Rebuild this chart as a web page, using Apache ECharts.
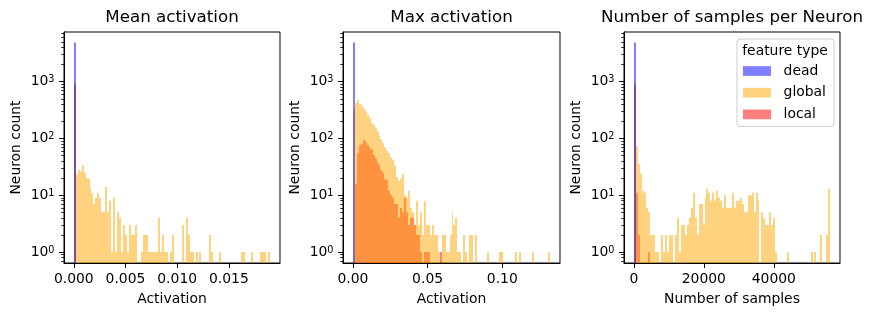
<!DOCTYPE html>
<html><head><meta charset="utf-8">
<script src="https://cdn.jsdelivr.net/npm/echarts@6/dist/echarts.min.js"></script>
<style>html,body{margin:0;padding:0;background:#fff}#c{width:872px;height:316px}</style>
</head><body><div id="c"></div>
<script>
// ---------- data ----------
const panelTitles = ['Mean activation', 'Max activation', 'Number of samples per Neuron'];
const xAxisNames = ['Activation', 'Activation', 'Number of samples'];
const yAxisName = 'Neuron count';
const featureTypes = ['dead', 'global', 'local'];
const legendTitle = 'feature type';
const binCount = 100;
const binRangeMax = [0.019, 0.132, 56100];   // histogram range per panel, starting at 0
const xTickValues = [[0, 0.005, 0.010, 0.015], [0, 0.05, 0.10], [0, 20000, 40000]];
const xTickDecimals = [3, 2, 0];
const yTickValues = [1, 10, 100, 1000];
const yMinorTickValues = [0.7, 0.8, 0.9, 2, 3, 4, 5, 6, 7, 8, 9, 20, 30, 40, 50, 60, 70, 80, 90,
  200, 300, 400, 500, 600, 700, 800, 900, 2000, 3000, 4000, 5000, 6000, 7000];
const yMin = 0.64, yMax = 7500;

// counts per bin (missing trailing bins = 0)
const meanDead = [4900];
const meanGlobal = [960, 23, 28, 26, 34, 25, 20, 20, 14, 11,
  7, 9, 11, 9, 5, 5, 14, 5, 8, 1,
  9, 1, 5, 4, 1, 3, 2, 1, 3, 2,
  2, 3, 0, 0, 1, 2, 2, 2, 1, 1,
  1, 1, 1, 4, 1, 2, 1, 1, 0, 1,
  2, 0, 0, 0, 0, 3, 0, 4, 2, 1,
  1, 0, 1, 0, 1, 0, 0, 0, 0, 2,
  1, 0, 0, 0, 1, 0, 0, 0, 0, 0,
  0, 0, 0, 0, 0, 1, 1, 0, 0, 0,
  1, 0, 0, 0, 0, 1, 1, 1, 0, 1];
const meanLocal = [880];

const maxDead = [4900];
const maxGlobal = [335, 420, 475, 410, 380, 345, 300, 260, 230, 185,
  172, 155, 133, 110, 97, 83, 70, 60, 55, 46,
  42, 33, 21, 18, 20, 24, 10, 9, 12, 6,
  5, 3, 8, 3, 5, 2, 8, 3, 3, 2,
  3, 2, 2, 1, 0, 2, 2, 1, 1, 2,
  5, 3, 4, 1, 1, 0, 2, 1, 0, 2,
  2, 0, 2, 0, 0, 0, 0, 0, 1, 0,
  0, 0, 0, 0, 1, 1, 0, 0, 0, 0,
  0, 0, 1, 0, 1, 0, 0, 0, 0, 0,
  0, 1, 0, 0, 0, 0, 0, 0, 0, 1];
const maxLocal = [0, 16, 55, 75, 80, 95, 85, 77, 67, 63,
  51, 45, 37, 34, 28, 25, 19, 19, 12, 10,
  9, 7, 7, 4, 6, 5, 9, 5, 3, 4,
  4, 3, 2, 2, 1, 0, 1, 1, 1, 0,
  0, 0, 0, 0, 1];

const samplesDead = [4900];
const samplesGlobal = [960, 72, 35, 24, 12, 11, 6, 5, 2, 2,
  2, 1, 1, 0, 2, 1, 2, 1, 2, 2,
  0, 2, 4, 1, 3, 3, 2, 3, 4, 6,
  11, 4, 2, 7, 7, 3, 9, 13, 11, 8,
  11, 8, 12, 9, 8, 6, 10, 6, 6, 6,
  11, 6, 8, 8, 9, 7, 5, 5, 10, 10,
  11, 5, 11, 8, 0, 5, 4, 3, 3, 5,
  3, 4, 1, 0, 0, 0, 0, 0, 1, 0,
  0, 0, 0, 0, 0, 0, 0, 0, 0, 0,
  1, 0, 1, 0, 0, 2, 0, 0, 2, 13];
const samplesLocal = [866, 11, 2, 0, 0, 0, 0, 1];

const panelCounts = [
  { dead: meanDead, global: meanGlobal, local: meanLocal },
  { dead: maxDead, global: maxGlobal, local: maxLocal },
  { dead: samplesDead, global: samplesGlobal, local: samplesLocal }
];

// ---------- style ----------
const FONT = 'DejaVu Sans';
const colors = { dead: 'rgba(0,0,255,0.5)', global: 'rgba(255,165,0,0.5)', local: 'rgba(255,0,0,0.5)' };
const grids = [
  { left: 64, top: 32, width: 216, height: 231 },
  { left: 343, top: 32, width: 217, height: 231 },
  { left: 624, top: 32, width: 216, height: 231 }
];

function renderBar(params, api) {
  const c = api.value(2);
  if (!(c > 0)) return null;
  const p0 = api.coord([api.value(0), c]);
  const p1 = api.coord([api.value(1), yMin]);
  const x0 = Math.round(p0[0]), x1 = Math.round(p1[0]);
  return { type: 'rect', shape: { x: x0, y: p0[1], width: Math.max(1, x1 - x0), height: p1[1] - p0[1] },
    style: api.style() };
}

const xAxes = [], yAxes = [], series = [], graphics = [];
grids.forEach((g, p) => {
  const R = binRangeMax[p];
  const w = R / binCount;
  xAxes.push({
    type: 'value', gridIndex: p, min: -0.05 * R, max: 1.05 * R, z: 10,
    name: xAxisNames[p], nameLocation: 'middle', nameGap: 29.5,
    nameTextStyle: { fontFamily: FONT, fontSize: 13.9, color: '#000' },
    axisLine: { show: true, onZero: false, lineStyle: { color: '#000', width: 1 } },
    axisTick: { show: true, length: 4.9, lineStyle: { color: '#000', width: 1 }, customValues: xTickValues[p] },
    axisLabel: { show: true, margin: 9, fontFamily: FONT, fontSize: 13.9, color: '#000',
      customValues: xTickValues[p], formatter: v => Number(v).toFixed(xTickDecimals[p]) },
    splitLine: { show: false }
  });
  yAxes.push({
    type: 'log', logBase: 10, gridIndex: p, min: yMin, max: yMax, position: 'left', z: 10,
    name: yAxisName, nameLocation: 'middle', nameGap: 40.5, nameRotate: 90,
    nameTextStyle: { fontFamily: FONT, fontSize: 13.9, color: '#000' },
    axisLine: { show: true, onZero: false, lineStyle: { color: '#000', width: 1 } },
    axisTick: { show: true, length: 4.9, lineStyle: { color: '#000', width: 1 }, customValues: yTickValues },
    axisLabel: { show: true, margin: 9.5, customValues: yTickValues,
      formatter: v => '{b|10}{s|' + Math.round(Math.log10(v)) + '}',
      rich: {
        b: { fontFamily: FONT, fontSize: 13.9, color: '#000' },
        s: { fontFamily: FONT, fontSize: 9.7, color: '#000', verticalAlign: 'top', lineHeight: 10 }
      } },
    splitLine: { show: false }, minorTick: { show: false }
  });
  yAxes.push({
    type: 'log', logBase: 10, gridIndex: p, min: yMin, max: yMax, position: 'left', z: 10,
    axisLine: { show: false, onZero: false },
    axisTick: { show: true, length: 2.8, lineStyle: { color: '#000', width: 0.8 }, customValues: yMinorTickValues },
    axisLabel: { show: false }, splitLine: { show: false }
  });
  // draw order: local, global, dead (dead on top)
  ['local', 'global', 'dead'].forEach(t => {
    const counts = panelCounts[p][t];
    const data = [];
    for (let i = 0; i < binCount; i++) data.push([i * w, (i + 1) * w, counts[i] || 0]);
    series.push({
      type: 'custom', name: t, xAxisIndex: p, yAxisIndex: 2 * p, clip: true,
      renderItem: renderBar, itemStyle: { color: colors[t] },
      encode: { x: [0, 1], y: 2 }, data: data, silent: true, animation: false
    });
  });
  graphics.push({
    type: 'text', x: g.left + g.width / 2, y: 18, z: 100,
    style: { text: panelTitles[p], fontFamily: FONT, fontSize: 16.7, fill: '#000', textAlign: 'center', textVerticalAlign: 'middle' }
  });
});
graphics.push({
  type: 'text', x: 785, y: 51, z: 100,
  style: { text: legendTitle, fontFamily: FONT, fontSize: 13.9, fill: '#000', textAlign: 'center', textVerticalAlign: 'middle' }
});

const chart = echarts.init(document.getElementById('c'), null, { renderer: 'canvas' });
chart.setOption({
  animation: false,
  backgroundColor: '#fff',
  grid: grids.map(g => Object.assign({ show: true, borderColor: '#000', borderWidth: 1, backgroundColor: 'transparent' }, g)),
  xAxis: xAxes,
  yAxis: yAxes,
  series: series,
  legend: {
    data: featureTypes, orient: 'vertical', left: 737, top: 39,
    padding: [25, 8, 5, 6], itemWidth: 28, itemHeight: 9.7, itemGap: 7.7, icon: 'rect',
    backgroundColor: 'rgba(255,255,255,0.8)', borderColor: '#cccccc', borderWidth: 1, borderRadius: 3,
    selectedMode: false,
    textStyle: { fontFamily: FONT, fontSize: 13.9, color: '#000', padding: [0, 0, 0, 7.6] }
  },
  graphic: graphics
});
</script></body></html>
